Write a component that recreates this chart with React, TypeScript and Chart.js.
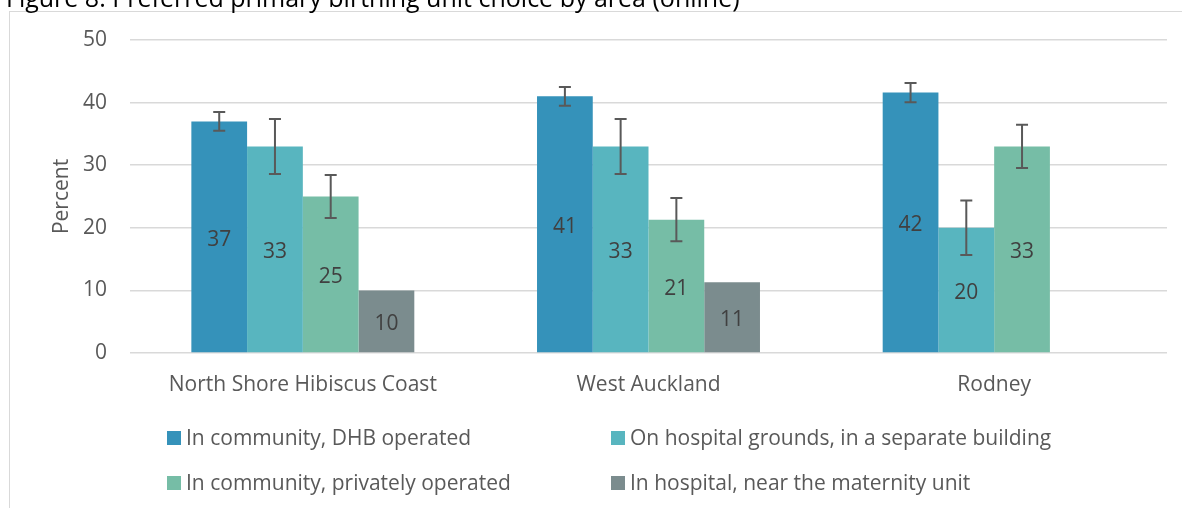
import { useEffect, useRef } from "react";
import { Chart, registerables } from "chart.js";

Chart.register(...registerables);

const chartTitle = "Figure 8: Preferred primary birthing unit choice by area (online)";
const areas = ["North Shore Hibiscus Coast", "West Auckland", "Rodney"];
const seriesLabels = [
  "In community, DHB operated",
  "On hospital grounds, in a separate building",
  "In community, privately operated",
  "In hospital, near the maternity unit",
];
const seriesColors = ["#3592BA", "#58B5BF", "#76BDA6", "#7B8C8E"];

const dhbOperated = [37, 41, 41.6];
const hospitalGrounds = [33, 33, 20];
const privatelyOperated = [25, 21.3, 33];
const nearMaternityUnit: (number | null)[] = [10, 11.3, null];

const dhbOperatedError = [1.5, 1.5, 1.55];
const hospitalGroundsError = [4.4, 4.4, 4.35];
const privatelyOperatedError = [3.45, 3.45, 3.45];
const nearMaternityUnitError: (number | null)[] = [null, null, null];

const yTicks = [0, 10, 20, 30, 40, 50];

const FONT = "'Open Sans', sans-serif";
const TEXT_GREY = "#595959";

export default function App() {
  const ref = useRef<HTMLCanvasElement | null>(null);

  useEffect(() => {
    if (!ref.current) return;
    const values = [dhbOperated, hospitalGrounds, privatelyOperated, nearMaternityUnit];
    const errors = [dhbOperatedError, hospitalGroundsError, privatelyOperatedError, nearMaternityUnitError];

    const extras = {
      id: "extras",
      beforeDraw(chart: any) {
        const ctx = chart.ctx;
        ctx.save();
        ctx.fillStyle = "#ffffff";
        ctx.fillRect(0, 0, chart.width, chart.height);
        ctx.strokeStyle = "#D9D9D9";
        ctx.lineWidth = 1;
        ctx.strokeRect(9.5, 11.5, chart.width + 20, chart.height + 20);
        ctx.fillStyle = "#000000";
        ctx.font = `25px ${FONT}`;
        ctx.textAlign = "left";
        ctx.textBaseline = "alphabetic";
        ctx.fillText(chartTitle, 6, 7);
        ctx.restore();
      },
      afterDatasetsDraw(chart: any) {
        const ctx = chart.ctx;
        const y = chart.scales.y;
        ctx.save();
        chart.data.datasets.forEach((ds: any, i: number) => {
          const meta = chart.getDatasetMeta(i);
          meta.data.forEach((bar: any, j: number) => {
            const v = values[i][j];
            if (v === null || v === undefined) return;
            ctx.fillStyle = "#404040";
            ctx.font = `21px ${FONT}`;
            ctx.textAlign = "center";
            ctx.textBaseline = "middle";
            ctx.fillText(String(Math.round(v)), bar.x, (bar.y + bar.base) / 2 + 3);
            const e = errors[i][j];
            if (e === null || e === undefined) return;
            const top = y.getPixelForValue(v + e);
            const bot = y.getPixelForValue(v - e);
            ctx.strokeStyle = "#595959";
            ctx.lineWidth = 2;
            ctx.beginPath();
            ctx.moveTo(bar.x, top);
            ctx.lineTo(bar.x, bot);
            ctx.moveTo(bar.x - 6, top);
            ctx.lineTo(bar.x + 6, top);
            ctx.moveTo(bar.x - 6, bot);
            ctx.lineTo(bar.x + 6, bot);
            ctx.stroke();
          });
        });
        ctx.restore();
      },
      afterDraw(chart: any) {
        const ctx = chart.ctx;
        ctx.save();
        const pos = [
          [167, 431],
          [611, 431],
          [167, 476],
          [611, 476],
        ];
        chart.data.datasets.forEach((ds: any, i: number) => {
          const [x, yy] = pos[i];
          ctx.fillStyle = ds.backgroundColor;
          ctx.fillRect(x, yy, 14, 14);
          ctx.fillStyle = TEXT_GREY;
          ctx.font = `21px ${FONT}`;
          ctx.textAlign = "left";
          ctx.textBaseline = "middle";
          ctx.fillText(ds.label, x + 19, yy + 8);
        });
        ctx.restore();
      },
    };

    const chart = new Chart(ref.current, {
      type: "bar",
      data: {
        labels: areas,
        datasets: values.map((vals, i) => ({
          label: seriesLabels[i],
          data: vals,
          backgroundColor: seriesColors[i],
          categoryPercentage: 0.645,
          barPercentage: 1,
        })),
      },
      options: {
        animation: false,
        responsive: false,
        maintainAspectRatio: false,
        layout: { padding: { top: 40, right: 15, bottom: 0, left: 0 } },
        plugins: {
          legend: { display: false },
          tooltip: { enabled: false },
          title: { display: false },
        },
        scales: {
          x: {
            grid: { display: false, drawTicks: false },
            border: { display: false },
            ticks: { color: TEXT_GREY, font: { family: FONT, size: 21 }, padding: 19 },
            afterFit: (s: any) => {
              s.height = 155;
            },
          },
          y: {
            min: 0,
            max: 50,
            afterBuildTicks: (s: any) => {
              s.ticks = yTicks.map((v) => ({ value: v }));
            },
            ticks: { color: TEXT_GREY, font: { family: FONT, size: 21 }, padding: 23 },
            grid: { color: "#D9D9D9", lineWidth: 1.5, drawTicks: false },
            border: { display: false },
            title: {
              display: true,
              text: "Percent",
              color: TEXT_GREY,
              font: { family: FONT, size: 21 },
              padding: { top: 49, bottom: 0 },
            },
            afterFit: (s: any) => {
              s.width = 130;
            },
          },
        },
      },
      plugins: [extras],
    });
    return () => chart.destroy();
  }, []);

  return (
    <div style={{ position: "fixed", left: 0, top: 0, width: 1182, height: 508 }}>
      <canvas ref={ref} width={1182} height={508} style={{ width: 1182, height: 508 }} />
    </div>
  );
}
